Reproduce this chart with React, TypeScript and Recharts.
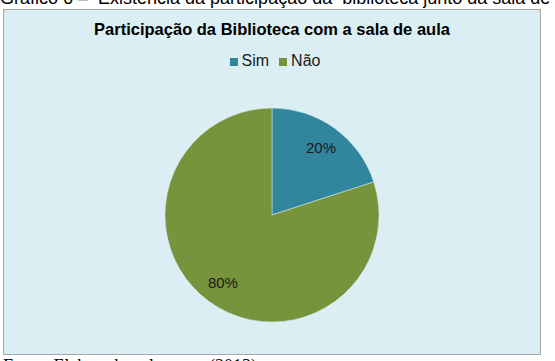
import { PieChart, Pie, Cell, Legend } from 'recharts';

const categories = ['Sim', 'Não'];
const shares = [20, 80];
const sliceColors = ['#31859C', '#77933C'];

const chartData = categories.map((name, i) => ({ name, value: shares[i] }));

const BG = '#DAEEF3';

function renderLabel(props: any) {
  const { cx, cy, midAngle, outerRadius, value } = props;
  const r = outerRadius * 0.78;
  const rad = (Math.PI / 180) * midAngle;
  const x = cx + r * Math.cos(rad);
  const y = cy - r * Math.sin(rad);
  return (
    <text
      x={x}
      y={y}
      textAnchor="middle"
      dominantBaseline="central"
      fontSize={15}
      fill="#1a1a1a"
      fontFamily="'Liberation Sans', Arial, sans-serif"
    >
      {`${value}%`}
    </text>
  );
}

export default function App() {
  return (
    <div
      style={{
        position: 'absolute',
        left: 0,
        top: 0,
        width: 555,
        height: 361,
        overflow: 'hidden',
        background: '#fff',
        fontFamily: "'Liberation Sans', Arial, sans-serif",
      }}
    >
      <div
        style={{
          position: 'absolute',
          left: 0,
          top: -11,
          fontSize: 18,
          lineHeight: '18px',
          whiteSpace: 'pre',
          color: '#000',
        }}
      >
        {'Gráfico 6 –  Existência da participação da  biblioteca junto da sala de aula'}
      </div>

      <div
        style={{
          position: 'absolute',
          left: 3,
          top: 9,
          width: 536,
          height: 344,
          border: '1px solid #A6A6A6',
          background: BG,
        }}
      >
        <div
          style={{
            position: 'absolute',
            left: 0,
            width: 536,
            top: 11,
            textAlign: 'center',
            fontSize: 16.5,
            lineHeight: '16px',
            fontWeight: 'bold',
            color: '#000',
          }}
        >
          Participação da Biblioteca com a sala de aula
        </div>
        <PieChart width={536} height={344}>
          <Legend
            verticalAlign="top"
            align="center"
            iconType="square"
            iconSize={8}
            itemSorter={(item: any) => categories.indexOf(item.value)}
            wrapperStyle={{ top: 41, left: 13, fontSize: 16, lineHeight: '20px' }}
            formatter={(v: string) => <span style={{ color: '#1a1a1a' }}>{v}</span>}
          />
          <Pie
            data={chartData}
            dataKey="value"
            nameKey="name"
            cx={263}
            cy={180}
            outerRadius={107}
            startAngle={90}
            endAngle={-270}
            stroke={BG}
            strokeWidth={0.5}
            label={renderLabel}
            labelLine={false}
            isAnimationActive={false}
          >
            {chartData.map((d, i) => (
              <Cell key={d.name} fill={sliceColors[i]} />
            ))}
          </Pie>
        </PieChart>
      </div>

      <div
        style={{
          position: 'absolute',
          left: 3,
          top: 357,
          fontSize: 18,
          lineHeight: '18px',
          whiteSpace: 'pre',
          fontFamily: "'Liberation Serif', 'Times New Roman', serif",
          color: '#000',
        }}
      >
        Fonte: Elaborado pelo autor (2013)
      </div>
    </div>
  );
}
